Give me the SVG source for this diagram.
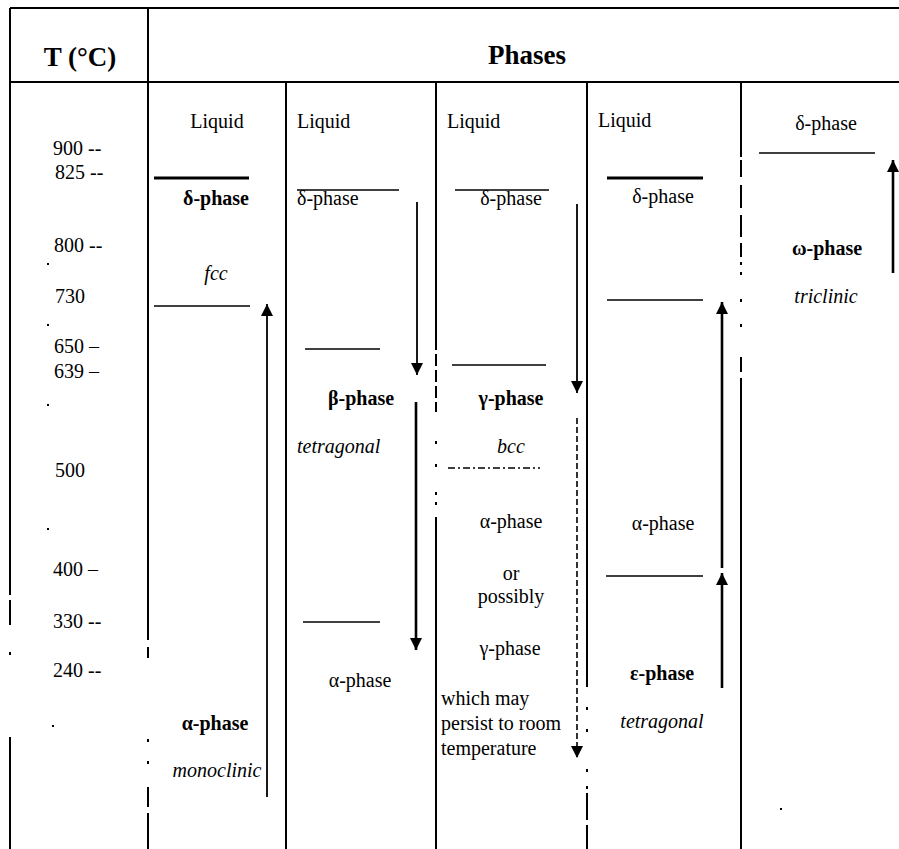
<svg xmlns="http://www.w3.org/2000/svg" width="899" height="849" viewBox="0 0 899 849">
<style>
text{font-family:"Liberation Serif","Times New Roman",serif;font-size:20px;fill:#000}
.b{font-weight:bold}
.i{font-style:italic}
.h{font-weight:bold;font-size:27px}
.c{text-anchor:middle}
.grid{stroke:#000;stroke-width:2;fill:none}
.ln{stroke:#000;stroke-width:1.5;fill:none}
.thick{stroke:#000;stroke-width:3.2;fill:none}
.arr{stroke:#000;stroke-width:1.8;fill:none;marker-end:url(#ah)}
.arrb{stroke:#000;stroke-width:2.6;fill:none;marker-end:url(#ah)}
.dash{stroke:#000;stroke-width:1.6;fill:none;stroke-dasharray:6 3;marker-end:url(#ah)}
.dd{stroke:#000;stroke-width:1.5;fill:none;stroke-dasharray:7 3 2 3}
.dot{fill:#000}
</style>
<defs>
<marker id="ah" markerUnits="userSpaceOnUse" markerWidth="12" markerHeight="12" viewBox="0 0 12 12" refX="12" refY="6" orient="auto">
<path d="M0,0 L12,6 L0,12 Z" fill="#000"/>
</marker>
</defs>
<rect width="899" height="849" fill="#fff"/>
<g id="table-grid">
<path class="grid" d="M10,8 H899 M10,82 H899"/>
<path class="grid" d="M10,8 V595 M10,600 V625 M10,652 V655 M10,737 V849"/>
<path class="grid" d="M148,8 V640 M148,647 V658 M148,739 V742 M148,761 V764 M148,787 V807 M148,813 V849"/>
<path class="grid" d="M286,82 V849"/>
<path class="grid" d="M436,82 V350 M436,354 V366 M436,370 V382 M436,386 V398 M436,402 V412 M436,441 V444 M436,464 V467 M436,492 V495 M436,502 V505 M436,517 V849"/>
<path class="grid" d="M587,82 V687 M587,707 V710 M587,729 V732 M587,769 V772 M587,786 V789 M587,793 V820 M587,825 V849"/>
<path class="grid" d="M741,82 V157 M741,160 V177 M741,185 V208 M741,215 V237 M741,243 V257 M741,262 V265 M741,272 V275 M741,299 V302 M741,324 V327 M741,357 V372 M741,378 V849"/>
</g>
<g id="header">
<text class="h c" x="80" y="66">T (°C)</text>
<text class="h c" x="527" y="64">Phases</text>
</g>
<g id="temperature-scale">
<text x="53" y="155">900 --</text>
<text x="55" y="179">825 --</text>
<text x="54" y="252">800 --</text>
<text x="55" y="303">730</text>
<text x="54" y="353">650 –</text>
<text x="54" y="378">639 –</text>
<text x="55" y="477">500</text>
<text x="53" y="576">400 –</text>
<text x="53" y="628">330 --</text>
<text x="53" y="677">240 --</text>
<rect class="dot" x="47" y="263" width="2" height="2"/>
<rect class="dot" x="47" y="324" width="2" height="2"/>
<rect class="dot" x="47" y="404" width="2" height="2"/>
<rect class="dot" x="47" y="528" width="2" height="2"/>
<rect class="dot" x="52" y="725" width="2" height="2"/>
</g>
<g id="column-1">
<text class="c" x="217" y="128">Liquid</text>
<path class="thick" d="M154,178 H249"/>
<text class="b c" x="216" y="205">δ-phase</text>
<text class="i c" x="216" y="280">fcc</text>
<path class="ln" d="M154,306 H250"/>
<text class="b c" x="215" y="730">α-phase</text>
<text class="i c" x="217" y="777">monoclinic</text>
</g>
<g id="column-2">
<text x="297" y="128">Liquid</text>
<path class="ln" d="M297,190 H399"/>
<text x="297" y="205">δ-phase</text>
<path class="ln" d="M305,349 H380"/>
<text class="b c" x="361" y="405">β-phase</text>
<text class="i" x="297" y="453">tetragonal</text>
<path class="ln" d="M303,622 H380"/>
<text class="c" x="360" y="687">α-phase</text>
</g>
<g id="column-3">
<text x="447" y="128">Liquid</text>
<path class="ln" d="M455,190 H549"/>
<text class="c" x="511" y="205">δ-phase</text>
<path class="ln" d="M452,365 H546"/>
<text class="b c" x="511" y="405">γ-phase</text>
<text class="i c" x="511" y="453">bcc</text>
<path class="dd" d="M448,468 H540"/>
<text class="c" x="511" y="528">α-phase</text>
<text class="c" x="511" y="580">or</text>
<text class="c" x="511" y="603">possibly</text>
<text class="c" x="510" y="655">γ-phase</text>
<text x="441" y="705">which may</text>
<text x="441" y="730">persist to room</text>
<text x="441" y="755">temperature</text>
</g>
<g id="column-4">
<text x="598" y="127">Liquid</text>
<path class="thick" d="M607,178 H703"/>
<text class="c" x="663" y="203">δ-phase</text>
<path class="ln" d="M607,300 H703"/>
<text class="c" x="663" y="530">α-phase</text>
<path class="ln" d="M606,576 H703"/>
<text class="b c" x="662" y="680">ε-phase</text>
<text class="i c" x="662" y="728">tetragonal</text>
</g>
<g id="column-5">
<text class="c" x="826" y="130">δ-phase</text>
<path class="ln" d="M759,153 H875"/>
<text class="b c" x="827" y="255">ω-phase</text>
<text class="i c" x="826" y="303">triclinic</text>
<rect class="dot" x="780" y="808" width="2" height="2"/>
</g>
<g id="connectors">
<path class="arr" d="M267,797 V304"/>
<path class="arr" d="M417,202 V375"/>
<path class="arrb" d="M416,402 V650"/>
<path class="arr" d="M577,204 V393"/>
<path class="dash" d="M577,418 V758"/>
<path class="arrb" d="M722,568 V302"/>
<path class="arrb" d="M722,688 V573"/>
<path class="arrb" d="M893,273 V160"/>
</g>
</svg>
